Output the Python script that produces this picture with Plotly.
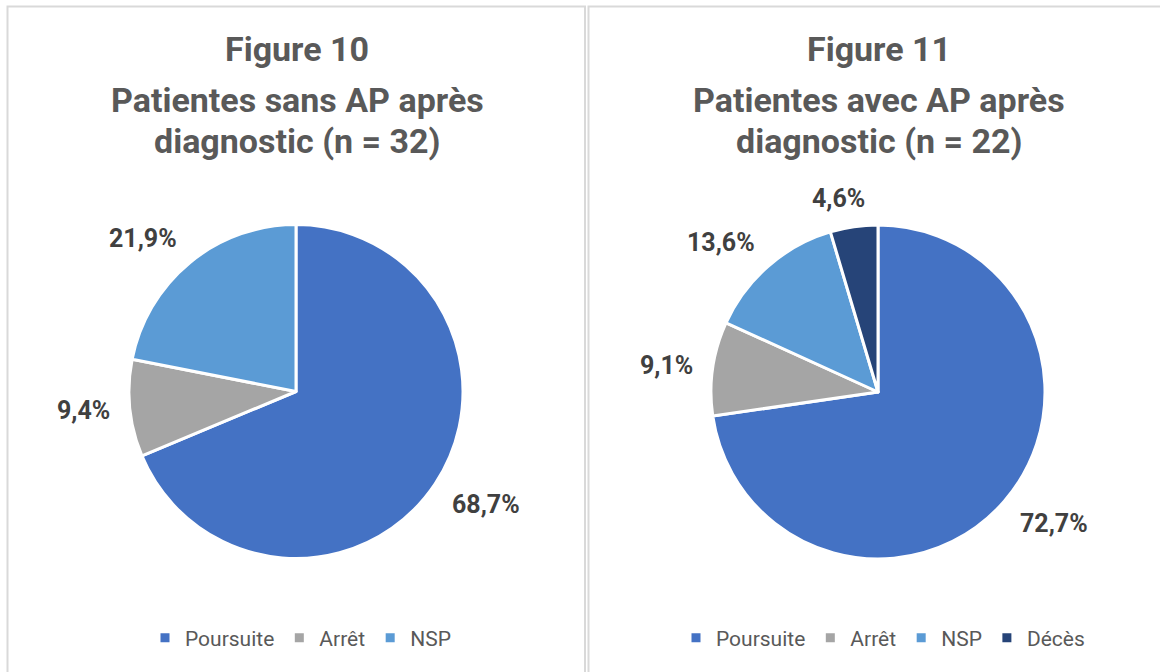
import math
import plotly.graph_objects as go

W, H = 1160, 672

# ---- data ----
labels_left = ["Poursuite", "Arrêt", "NSP"]
values_left = [68.7, 9.4, 21.9]
text_left = ["68,7%", "9,4%", "21,9%"]

labels_right = ["Poursuite", "Arrêt", "NSP", "Décès"]
values_right = [72.7, 9.1, 13.6, 4.6]
text_right = ["72,7%", "9,1%", "13,6%", "4,6%"]

title_left = ["Figure 10", "Patientes sans AP après", "diagnostic (n = 32)"]
title_right = ["Figure 11", "Patientes avec AP après", "diagnostic (n = 22)"]

colors = {"Poursuite": "#4472C4", "Arrêt": "#A5A5A5", "NSP": "#5B9BD5", "Décès": "#264478"}

FONT = "Roboto"
TEXT_DARK = "#404040"
TEXT_GREY = "#595959"

# pie geometry (pixels): center and radius
pies = [
    dict(cx=296, cy=391.5, r=167, labels=labels_left, values=values_left,
         text=text_left, legend="legend", group="left", title=title_left, tx=297),
    dict(cx=878, cy=392, r=167, labels=labels_right, values=values_right,
         text=text_right, legend="legend2", group="right", title=title_right, tx=879),
]

fig = go.Figure()
annotations = []

for p in pies:
    cx, cy, r = p["cx"], p["cy"], p["r"]
    fig.add_trace(go.Pie(
        labels=p["labels"], values=p["values"],
        marker=dict(colors=[colors[l] for l in p["labels"]],
                    line=dict(color="white", width=3)),
        sort=False, direction="clockwise", rotation=0,
        textinfo="none", hoverinfo="label+percent",
        domain=dict(x=[(cx - r) / W, (cx + r) / W],
                    y=[1 - (cy + r) / H, 1 - (cy - r) / H]),
        legend=p["legend"], legendgroup=p["group"], showlegend=True,
    ))
    # outside-end data labels placed along each slice's mid angle
    total = sum(p["values"])
    cum = 0.0
    d = r + 18
    fs = 25
    for v, t in zip(p["values"], p["text"]):
        m = (cum + v / 2) / total
        cum += v
        th = 2 * math.pi * m
        sx, sy = math.sin(th), -math.cos(th)  # screen dir (y down)
        px, py = cx + d * sx, cy + d * sy
        xshift = 0
        yshift = 0
        if sx > 0.3:
            xa = "left"
        elif sx < -0.3:
            xa = "right"
        else:
            xa = "center"
            w_est = len(t) * 0.53 * fs
            xshift = (sx / 0.3) * w_est / 2
        if sy > 0.3:
            ya = "top"
            yshift = 6
        elif sy < -0.3:
            ya = "bottom"
            yshift = -6.5
        else:
            ya = "middle"
        annotations.append(dict(
            x=px / W, y=1 - py / H, xref="paper", yref="paper",
            xanchor=xa, yanchor=ya, xshift=xshift, yshift=yshift,
            showarrow=False,
            text="<b>%s</b>" % t,
            font=dict(family=FONT, size=fs, color=TEXT_DARK),
        ))
    # title lines
    for line, ty in zip(p["title"], [49, 100, 141]):
        annotations.append(dict(
            x=p["tx"] / W, y=1 - ty / H, xref="paper", yref="paper",
            xanchor="center", yanchor="middle", showarrow=False,
            text="<b>%s</b>" % line,
            font=dict(family=FONT, size=34, color=TEXT_GREY),
        ))

shapes = [
    dict(type="rect", xref="paper", yref="paper",
         x0=7.5 / W, x1=585 / W, y0=1 - 720 / H, y1=1 - 6.5 / H,
         line=dict(color="#D9D9D9", width=2), fillcolor="rgba(0,0,0,0)"),
    dict(type="rect", xref="paper", yref="paper",
         x0=588.5 / W, x1=1180 / W, y0=1 - 720 / H, y1=1 - 6.5 / H,
         line=dict(color="#D9D9D9", width=2), fillcolor="rgba(0,0,0,0)"),
]

legend_common = dict(orientation="h", yanchor="middle", xanchor="left",
                     font=dict(family=FONT, size=21, color=TEXT_GREY),
                     bgcolor="rgba(0,0,0,0)", itemwidth=30,
                     traceorder="normal")

fig.update_layout(
    width=W, height=H,
    margin=dict(l=0, r=0, t=0, b=0),
    paper_bgcolor="white", plot_bgcolor="white",
    annotations=annotations, shapes=shapes,
    legend=dict(x=145 / W, y=1 - 638 / H, **legend_common),
    legend2=dict(x=676 / W, y=1 - 638 / H, **legend_common),
)

fig.write_html("out.html", config={"displayModeBar": False},
               post_script="document.body.style.margin='0';document.body.style.overflow='hidden';")
